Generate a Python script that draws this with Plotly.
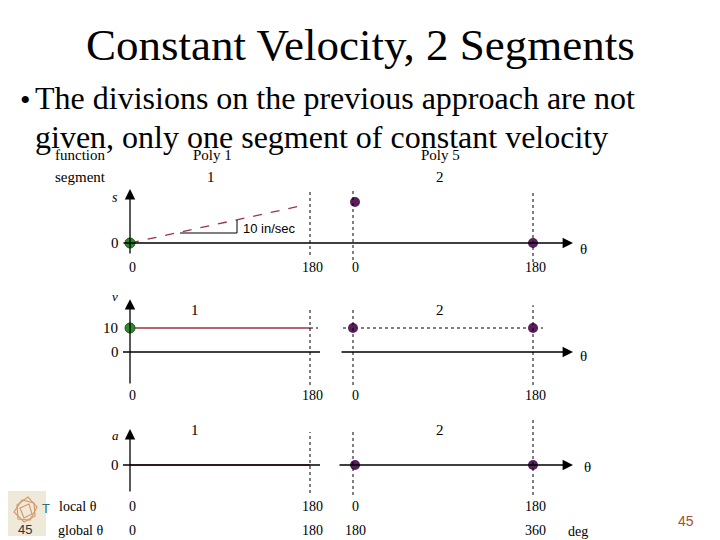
import plotly.graph_objects as go

# ---------------- data ----------------
title_text = "Constant Velocity, 2 Segments"
bullet_lines = ["The divisions on the previous approach are not",
                "given, only one segment of constant velocity"]
segments = ["1", "2"]
functions = ["Poly 1", "Poly 5"]
seg_length = [180, 180]                  # deg per segment
local_ticks = [0, 180, 0, 180]
global_ticks = [0, 180, 180, 360]
slope_label = "10 in/sec"
s_seg1_theta = [0, 175]
s_seg1 = [0, 38]
s_seg2_theta = [0, 180]
s_seg2 = [41, 0]
v_seg1 = [10, 10]
v_seg2 = [10, 10]
a_seg1 = [0, 0]
a_seg2 = [0, 0]
page_number = "45"

# ---------------- layout helpers ----------------
OFF = 8                                    # page body margin
GAP = 43                                   # display gap between segments
def X(seg, th):
    return th if seg == 0 else seg_length[0] + GAP + th

SERIF = "Liberation Serif, Times New Roman, serif"
SANS = "Liberation Sans, Arial, sans-serif"
RED = "#9a3444"
GREEN = "#2f8a2f"
PURPLE = "#5a1e5e"

fig = go.Figure()

# s row (yaxis y)
fig.add_trace(go.Scatter(x=[X(0, t) for t in s_seg1_theta], y=s_seg1, mode="lines",
                         line=dict(color=RED, width=1.3, dash="dash"), yaxis="y"))
fig.add_trace(go.Scatter(x=[X(0, 0)], y=[s_seg1[0]], mode="markers",
                         marker=dict(color=GREEN, size=10, line=dict(color="#1b5a1b", width=1)), yaxis="y"))
fig.add_trace(go.Scatter(x=[X(1, 2), X(1, 180)], y=s_seg2, mode="markers",
                         marker=dict(color=PURPLE, size=10), yaxis="y"))

# v row (yaxis2)
fig.add_trace(go.Scatter(x=[X(1, -10), X(1, 190)], y=v_seg2, mode="lines",
                         line=dict(color="black", width=1, dash="dot"), yaxis="y2"))
fig.add_trace(go.Scatter(x=[X(0, 180), X(0, 188)], y=v_seg1, mode="lines",
                         line=dict(color="black", width=1, dash="dot"), yaxis="y2"))
fig.add_trace(go.Scatter(x=[X(0, 0), X(0, 180)], y=v_seg1, mode="lines",
                         line=dict(color=RED, width=1.5), yaxis="y2"))
fig.add_trace(go.Scatter(x=[X(0, 0)], y=[v_seg1[0]], mode="markers",
                         marker=dict(color=GREEN, size=10, line=dict(color="#1b5a1b", width=1)), yaxis="y2"))
fig.add_trace(go.Scatter(x=[X(1, 0), X(1, 180)], y=v_seg2, mode="markers",
                         marker=dict(color=PURPLE, size=10), yaxis="y2"))

# a row (yaxis3)
fig.add_trace(go.Scatter(x=[X(0, 0), X(0, 180)], y=a_seg1, mode="lines",
                         line=dict(color=RED, width=1.5), yaxis="y3"))
fig.add_trace(go.Scatter(x=[X(1, 2), X(1, 180)], y=a_seg2, mode="markers",
                         marker=dict(color=PURPLE, size=10), yaxis="y3"))

shapes = []
annotations = []

def line(x0, y0, x1, y1, yref, dash="solid", width=1.3, color="black"):
    shapes.append(dict(type="line", xref="x", yref=yref, x0=x0, y0=y0, x1=x1, y1=y1,
                       line=dict(color=color, width=width, dash=dash)))

def arrow(x0, y0, x1, y1, yref):
    annotations.append(dict(x=x1, y=y1, ax=x0, ay=y0, xref="x", yref=yref,
                            axref="x", ayref=yref, showarrow=True, arrowhead=2,
                            arrowsize=1.6, arrowwidth=1.3, arrowcolor="black", text=""))

def txt(x, y, t, yref, size=14, font=SERIF, color="black", italic=False, xanchor="center"):
    if italic:
        t = "<i>" + t + "</i>"
    annotations.append(dict(x=x, y=y, xref="x", yref=yref, text=t, showarrow=False,
                            xanchor=xanchor, yanchor="middle",
                            font=dict(family=font, size=size, color=color)))

# ----- s row -----
arrow(0, -12, 0, 54, "y")
arrow(-8, 0, X(1, 220), 0, "y")
line(X(0, 180), -12, X(0, 180), 53, "y", dash="dot", width=1)
line(X(1, 0), -17, X(1, 0), 53, "y", dash="dot", width=1)
line(X(1, 180), -19, X(1, 180), 53, "y", dash="dot", width=1)
line(50, 10, 107, 10, "y", width=1)
line(107, 10, 107, 23, "y", width=1)
txt(111, 15, slope_label, "y", size=13, font=SANS, xanchor="left")
txt(-15, 46, "s", "y", italic=True)
txt(-15, 0, "0", "y", size=15)
txt(X(1, 230), -6, "θ", "y", size=15)
for i, (seg, th) in enumerate([(0, 0), (0, 180), (1, 0), (1, 180)]):
    txt(X(seg, th) + 2, -24, str(local_ticks[i]), "y")
txt(-50, 88, "function", "y", size=15)
txt(-50, 66, "segment", "y", size=15)
for k in range(2):
    txt(X(k, 82) if k == 0 else X(k, 87), 88, functions[k], "y", size=15)
    txt(X(k, 81) if k == 0 else X(k, 87), 66, segments[k], "y", size=15)

# ----- v row -----
arrow(0, -13.75, 0, 22, "y2")
line(-7, 0, X(0, 190), 0, "y2")
arrow(X(1, -13), 0, X(1, 220), 0, "y2")
line(X(0, 180), -13.75, X(0, 180), 18.5, "y2", dash="dot", width=1)
line(X(1, 0), -13.75, X(1, 0), 18.5, "y2", dash="dot", width=1)
line(X(1, 180), -13.75, X(1, 180), 19.5, "y2", dash="dot", width=1)
txt(-15, 23, "v", "y2", italic=True, size=13)
txt(-20, 10, "10", "y2", size=15)
txt(-15, 0, "0", "y2", size=15)
txt(X(0, 65), 17.5, segments[0], "y2", size=15)
txt(X(1, 87), 17.5, segments[1], "y2", size=15)
txt(X(1, 230), -1.5, "θ", "y2", size=15)
for i, (seg, th) in enumerate([(0, 0), (0, 180), (1, 0), (1, 180)]):
    txt(X(seg, th) + 2, -18, str(local_ticks[i]), "y2")

# ----- a row -----
arrow(0, -28, 0, 36, "y3")
line(-7, 0, X(0, 190), 0, "y3")
arrow(X(1, -15), 0, X(1, 220), 0, "y3")
line(X(0, 180), -28, X(0, 180), 33, "y3", dash="dot", width=1)
line(X(1, 0), -30, X(1, 0), 33, "y3", dash="dot", width=1)
line(X(1, 180), -30, X(1, 180), 47, "y3", dash="dot", width=1)
txt(-15, 30, "a", "y3", italic=True, size=13)
txt(-15, 0, "0", "y3", size=15)
txt(X(0, 65), 35, segments[0], "y3", size=15)
txt(X(1, 87), 35, segments[1], "y3", size=15)
txt(X(1, 234), -2, "θ", "y3", size=15)
txt(-52, -41, "local θ", "y3")
txt(-50, -65, "global θ", "y3")
for i, (seg, th) in enumerate([(0, 0), (0, 180), (1, 0), (1, 180)]):
    txt(X(seg, th) + 2, -41, str(local_ticks[i]), "y3")
    txt(X(seg, th) + 2, -65, str(global_ticks[i]), "y3")
txt(X(1, 225), -66, "deg", "y3")

# ----- slide text (paper coordinates, window pixels) -----
W, H = 720, 540
def ptxt(px, py, t, size, font=SERIF, color="black", xanchor="center"):
    annotations.append(dict(x=(px - OFF) / W, y=1 - (py - OFF) / H, xref="paper", yref="paper",
                            text=t, showarrow=False, xanchor=xanchor, yanchor="middle",
                            font=dict(family=font, size=size, color=color)))

def pp(px, py):
    return (px - OFF) / W, 1 - (py - OFF) / H

ptxt(360, 45, title_text, 45)
ptxt(18, 99, "•", 30, xanchor="left")
ptxt(33, 98, bullet_lines[0], 32, xanchor="left")
ptxt(33, 137, bullet_lines[1], 32, xanchor="left")
ptxt(686, 521, page_number, 14, font=SANS, color="#b04a2c")

# logo
x0, y1 = pp(5, 491)
x1, y0 = pp(46, 536)
shapes.append(dict(type="rect", xref="paper", yref="paper", x0=x0, x1=x1, y0=y0, y1=y1,
                   fillcolor="#efe9da", line=dict(width=0), layer="below"))
for poly in [[(14, 512), (22, 500), (34, 503), (35, 516), (24, 522)],
             [(17, 505), (28, 497), (37, 507), (30, 520), (18, 519)],
             [(20, 508), (29, 504), (32, 514), (24, 518)]]:
    conv = ["%f %f" % pp(a, b) for a, b in poly]
    shapes.append(dict(type="path", xref="paper", yref="paper",
                       path="M " + " L ".join(conv) + " Z",
                       line=dict(color="#d69a6c", width=1.2)))
ptxt(25, 529, page_number, 13, font=SANS, color="#333333")
ptxt(46, 508, "T", 13, font=SANS, color="#2f6f73")

fig.update_layout(
    width=W, height=H, margin=dict(l=0, r=0, t=0, b=0),
    paper_bgcolor="white", plot_bgcolor="white", showlegend=False,
    xaxis=dict(range=[OFF - 130, OFF - 130 + W], visible=False, fixedrange=True),
    yaxis=dict(range=[243 - OFF - H, 243 - OFF], visible=False, domain=[0, 1]),
    yaxis2=dict(range=[(352 - OFF - H) / 2.4, (352 - OFF) / 2.4], visible=False, overlaying="y"),
    yaxis3=dict(range=[465 - OFF - H, 465 - OFF], visible=False, overlaying="y"),
    shapes=shapes, annotations=annotations,
)

fig.write_html("out.html")
